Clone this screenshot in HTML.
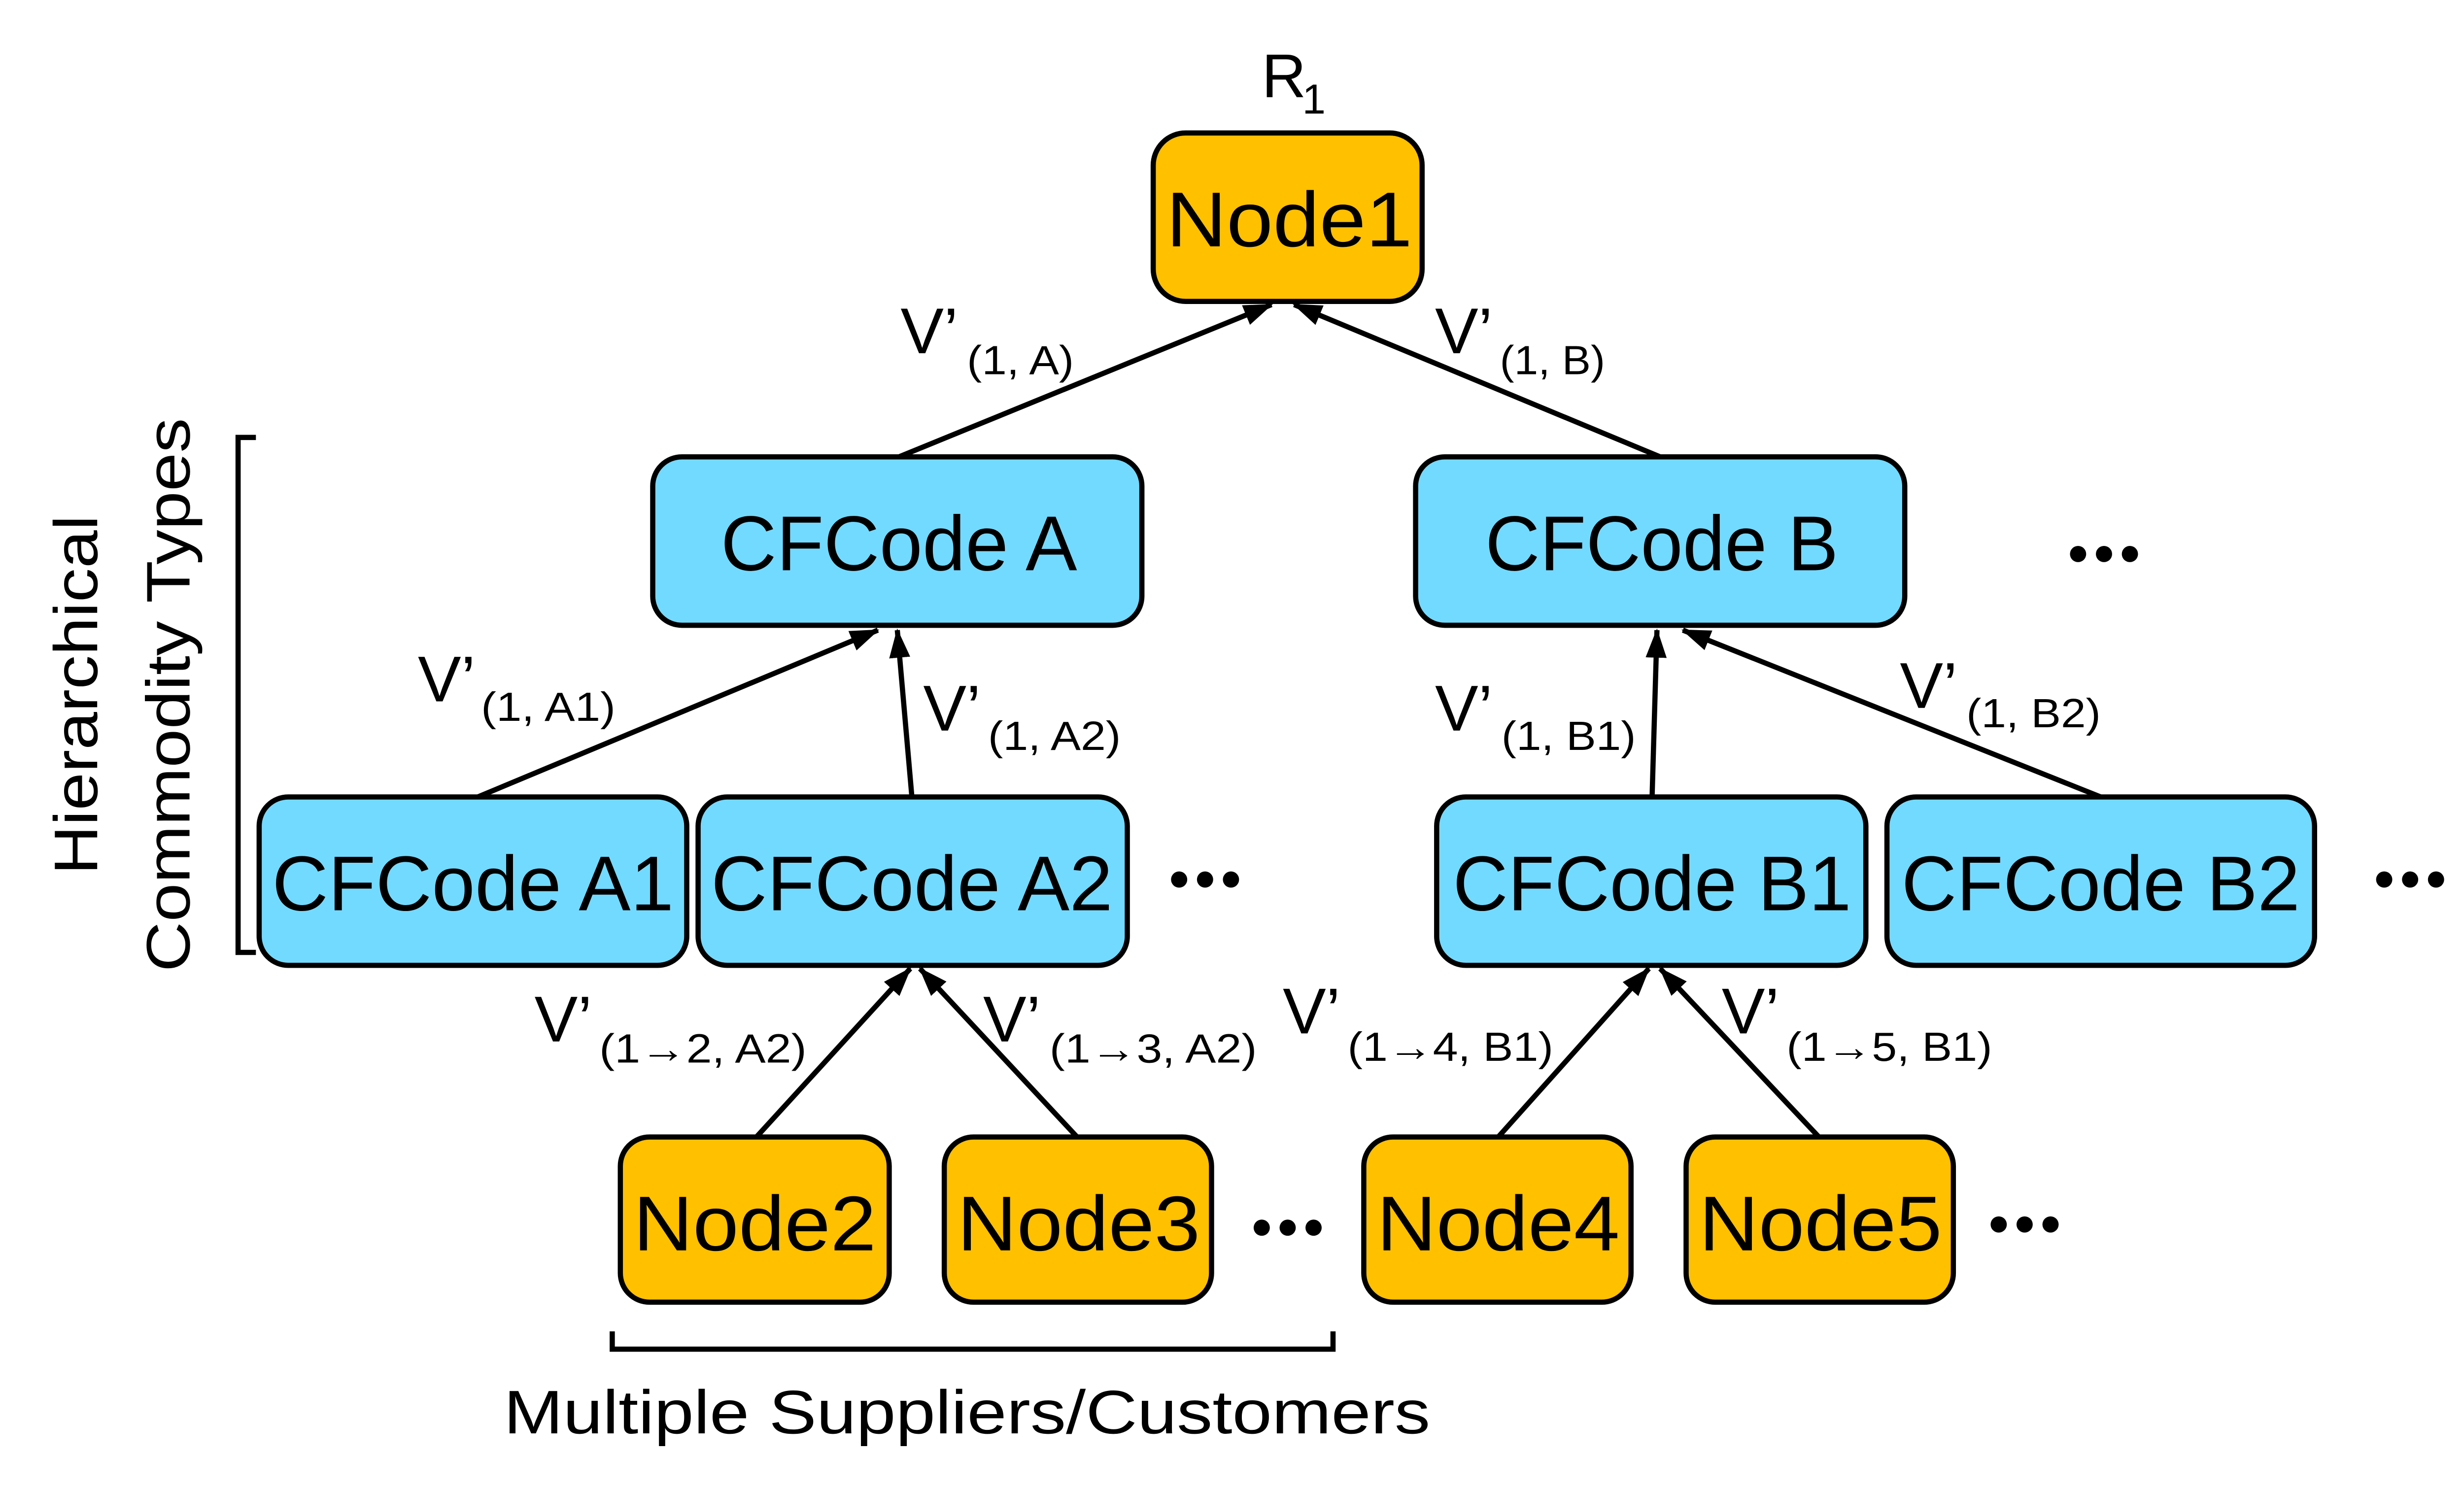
<!DOCTYPE html>
<html><head><meta charset="utf-8"><style>
html,body{margin:0;padding:0;background:#fff;}
svg{display:block;}
text{font-family:"Liberation Sans","DejaVu Sans",sans-serif;fill:#000;}
</style></head><body>
<svg width="5101" height="3018" viewBox="0 0 1552 918" xmlns="http://www.w3.org/2000/svg">
<defs>
<marker id="ah" viewBox="0 0 18 13" refX="17" refY="6.5" markerWidth="18" markerHeight="13" markerUnits="userSpaceOnUse" orient="auto">
<path d="M0,0 L18,6.5 L0,13 Z" fill="#000"/>
</marker>
</defs>
<g stroke="#000" stroke-width="3.2" fill="none">
<line x1="555" y1="282" x2="785" y2="188" marker-end="url(#ah)"/>
<line x1="1025" y1="282" x2="799" y2="188" marker-end="url(#ah)"/>
<line x1="295" y1="492" x2="542" y2="389" marker-end="url(#ah)"/>
<line x1="563" y1="492" x2="554" y2="389" marker-end="url(#ah)"/>
<line x1="1020" y1="492" x2="1023" y2="389" marker-end="url(#ah)"/>
<line x1="1297" y1="492" x2="1039" y2="389" marker-end="url(#ah)"/>
<line x1="467" y1="702" x2="562" y2="598" marker-end="url(#ah)"/>
<line x1="665" y1="702" x2="568" y2="598" marker-end="url(#ah)"/>
<line x1="925" y1="702" x2="1018" y2="598" marker-end="url(#ah)"/>
<line x1="1123" y1="702" x2="1025" y2="598" marker-end="url(#ah)"/>
<polyline points="158,270 147,270 147,588 158,588"/>
<polyline points="378,822 378,833 823,833 823,822"/>
</g>
<g stroke="#000" stroke-width="3.2">
<rect x="712" y="82" width="166" height="104" rx="20" fill="#FFC000"/>
<rect x="403" y="282" width="302" height="104" rx="18" fill="#73DAFF"/>
<rect x="874" y="282" width="302" height="104" rx="18" fill="#73DAFF"/>
<rect x="160" y="492" width="264" height="104" rx="18" fill="#73DAFF"/>
<rect x="431" y="492" width="265" height="104" rx="18" fill="#73DAFF"/>
<rect x="887" y="492" width="265" height="104" rx="18" fill="#73DAFF"/>
<rect x="1165" y="492" width="264" height="104" rx="18" fill="#73DAFF"/>
<rect x="383" y="702" width="166" height="102" rx="18" fill="#FFC000"/>
<rect x="583" y="702" width="165" height="102" rx="18" fill="#FFC000"/>
<rect x="842" y="702" width="165" height="102" rx="18" fill="#FFC000"/>
<rect x="1041" y="702" width="165" height="102" rx="18" fill="#FFC000"/>
</g>
<g font-size="48">
<text x="720" y="152" textLength="152" lengthAdjust="spacingAndGlyphs">Node1</text>
<text x="445" y="352" textLength="220" lengthAdjust="spacingAndGlyphs">CFCode A</text>
<text x="917" y="352" textLength="218" lengthAdjust="spacingAndGlyphs">CFCode B</text>
<text x="168" y="562" textLength="248" lengthAdjust="spacingAndGlyphs">CFCode A1</text>
<text x="439" y="562" textLength="248" lengthAdjust="spacingAndGlyphs">CFCode A2</text>
<text x="897" y="562" textLength="246" lengthAdjust="spacingAndGlyphs">CFCode B1</text>
<text x="1174" y="562" textLength="246" lengthAdjust="spacingAndGlyphs">CFCode B2</text>
<text x="391" y="772" textLength="150" lengthAdjust="spacingAndGlyphs">Node2</text>
<text x="591" y="772" textLength="150" lengthAdjust="spacingAndGlyphs">Node3</text>
<text x="850" y="772" textLength="150" lengthAdjust="spacingAndGlyphs">Node4</text>
<text x="1049" y="772" textLength="150" lengthAdjust="spacingAndGlyphs">Node5</text>
</g>
<g fill="#000">
<circle cx="1283" cy="342" r="5"/><circle cx="1299" cy="342" r="5"/><circle cx="1315" cy="342" r="5"/>
<circle cx="728" cy="543" r="5"/><circle cx="744" cy="543" r="5"/><circle cx="760" cy="543" r="5"/>
<circle cx="1472" cy="543" r="5"/><circle cx="1488" cy="543" r="5"/><circle cx="1504" cy="543" r="5"/>
<circle cx="779" cy="758" r="5"/><circle cx="795" cy="758" r="5"/><circle cx="811" cy="758" r="5"/>
<circle cx="1234" cy="756" r="5"/><circle cx="1250" cy="756" r="5"/><circle cx="1266" cy="756" r="5"/>
</g>
<text x="779" y="60" font-size="38">R</text>
<text x="804" y="70" font-size="26">1</text>
<g font-size="40">
<text x="556" y="218">V’</text>
<text x="886" y="218">V’</text>
<text x="258" y="433">V’</text>
<text x="570" y="451">V’</text>
<text x="886" y="451">V’</text>
<text x="1173" y="437">V’</text>
<text x="330" y="643">V’</text>
<text x="607" y="643">V’</text>
<text x="792" y="638">V’</text>
<text x="1063" y="638">V’</text>
</g>
<g font-size="25">
<text x="597" y="231" textLength="66" lengthAdjust="spacingAndGlyphs">(1, A)</text>
<text x="926" y="231" textLength="65" lengthAdjust="spacingAndGlyphs">(1, B)</text>
<text x="297" y="445" textLength="83" lengthAdjust="spacingAndGlyphs">(1, A1)</text>
<text x="610" y="463" textLength="82" lengthAdjust="spacingAndGlyphs">(1, A2)</text>
<text x="927" y="463" textLength="83" lengthAdjust="spacingAndGlyphs">(1, B1)</text>
<text x="1214" y="449" textLength="83" lengthAdjust="spacingAndGlyphs">(1, B2)</text>
<text x="370" y="656" textLength="128" lengthAdjust="spacingAndGlyphs">(1→2, A2)</text>
<text x="648" y="656" textLength="128" lengthAdjust="spacingAndGlyphs">(1→3, A2)</text>
<text x="832" y="655" textLength="127" lengthAdjust="spacingAndGlyphs">(1→4, B1)</text>
<text x="1103" y="655" textLength="127" lengthAdjust="spacingAndGlyphs">(1→5, B1)</text>
</g>
<text x="311" y="885" font-size="38" textLength="572" lengthAdjust="spacingAndGlyphs">Multiple Suppliers/Customers</text>
<text transform="translate(60,540) rotate(-90)" font-size="38" textLength="222" lengthAdjust="spacingAndGlyphs">Hierarchical</text>
<text transform="translate(117,600) rotate(-90)" font-size="38" textLength="342" lengthAdjust="spacingAndGlyphs">Commodity Types</text>
</svg>
</body></html>
